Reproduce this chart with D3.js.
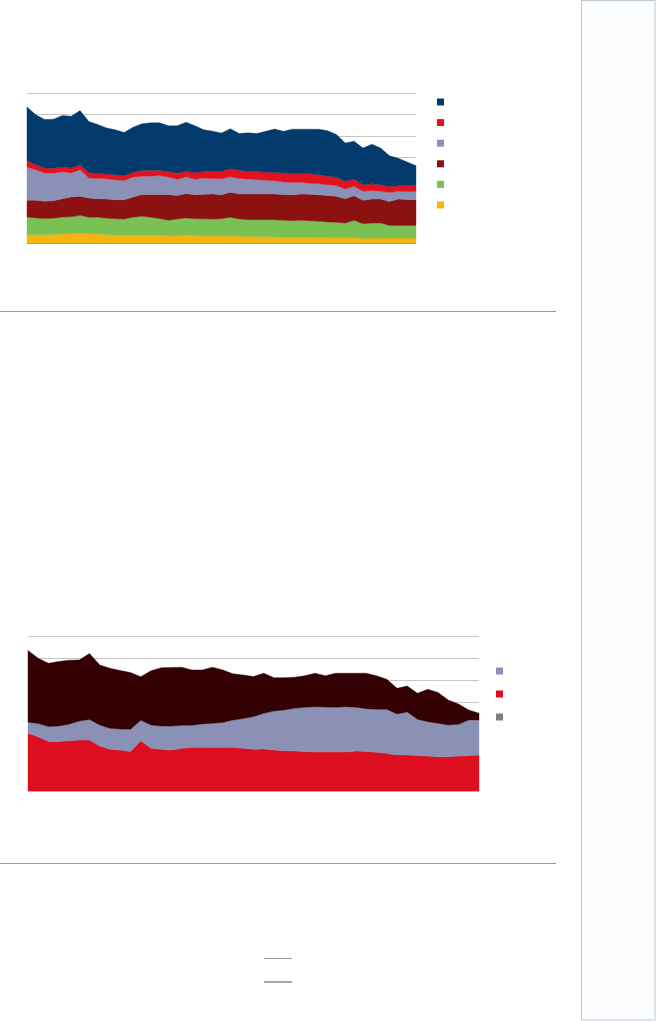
<!DOCTYPE html>
<html>
<head>
<meta charset="utf-8">
<script src="https://cdn.jsdelivr.net/npm/d3@7/dist/d3.min.js"></script>
<style>
html,body{margin:0;padding:0;background:#fff;}
svg{display:block;}
</style>
</head>
<body>
<svg id="chart" width="656" height="1021"></svg>
<script>
// ---------- DATA ----------
const years = d3.range(1970, 2015); // 45 points
const yTicks = [0, 1, 2, 3, 4, 5, 6, 7];

// Chart 1 (stack bottom -> top)
const seriesYellow = [0.39,0.39,0.39,0.40,0.42,0.44,0.45,0.44,0.42,0.40,0.37,0.36,0.36,0.36,0.36,0.36,0.34,0.34,0.36,0.34,0.34,0.34,0.34,0.33,0.31,0.31,0.30,0.30,0.28,0.28,0.28,0.28,0.26,0.26,0.26,0.25,0.25,0.25,0.22,0.23,0.23,0.23,0.23,0.23,0.23];
const seriesGreen = [0.82,0.78,0.75,0.76,0.79,0.78,0.84,0.76,0.78,0.76,0.76,0.76,0.84,0.89,0.84,0.78,0.72,0.78,0.81,0.79,0.79,0.78,0.79,0.87,0.81,0.78,0.79,0.79,0.81,0.78,0.76,0.78,0.78,0.75,0.72,0.72,0.68,0.81,0.68,0.70,0.70,0.59,0.59,0.59,0.59];
const seriesDarkRed = [0.78,0.82,0.81,0.81,0.86,0.93,0.89,0.90,0.87,0.89,0.89,0.90,0.95,1.01,1.06,1.12,1.20,1.10,1.14,1.12,1.15,1.17,1.12,1.17,1.17,1.20,1.20,1.20,1.20,1.20,1.21,1.23,1.24,1.24,1.24,1.21,1.14,1.15,1.09,1.12,1.12,1.12,1.23,1.21,1.20];
const seriesGrayBlue = [1.56,1.43,1.32,1.29,1.26,1.12,1.24,0.93,0.95,0.95,0.93,0.90,0.93,0.86,0.86,0.89,0.82,0.76,0.78,0.73,0.75,0.72,0.75,0.72,0.72,0.70,0.67,0.64,0.61,0.59,0.58,0.54,0.51,0.51,0.50,0.50,0.45,0.44,0.42,0.40,0.36,0.42,0.36,0.37,0.39];
const seriesRed = [0.30,0.23,0.23,0.23,0.22,0.23,0.23,0.26,0.22,0.22,0.23,0.22,0.22,0.26,0.28,0.25,0.26,0.28,0.26,0.31,0.31,0.34,0.34,0.37,0.39,0.36,0.39,0.37,0.40,0.42,0.40,0.40,0.44,0.42,0.39,0.40,0.36,0.34,0.31,0.31,0.31,0.28,0.26,0.28,0.31];
const seriesNavy = [2.50,2.33,2.26,2.29,2.40,2.41,2.53,2.38,2.29,2.15,2.10,2.02,2.10,2.18,2.21,2.21,2.13,2.21,2.29,2.18,1.94,1.87,1.79,1.87,1.71,1.79,1.76,1.91,2.02,1.94,2.08,2.08,2.08,2.13,2.13,1.98,1.79,1.76,1.71,1.85,1.71,1.43,1.28,1.10,0.89];

// Chart 2 (stack bottom -> top)
const series2Red = [2.61,2.45,2.23,2.23,2.27,2.30,2.30,2.03,1.88,1.85,1.78,2.27,1.93,1.88,1.85,1.93,1.96,1.96,1.96,1.96,1.96,1.93,1.88,1.90,1.85,1.82,1.81,1.78,1.76,1.76,1.76,1.76,1.81,1.78,1.75,1.70,1.63,1.63,1.60,1.58,1.55,1.55,1.58,1.60,1.63];
const series2GrayBlue = [0.50,0.60,0.68,0.71,0.75,0.86,0.93,0.95,0.95,0.95,1.01,0.93,1.05,1.05,1.08,1.04,1.01,1.07,1.10,1.13,1.25,1.34,1.48,1.61,1.76,1.84,1.93,2.00,2.05,2.03,2.02,2.05,1.97,1.94,1.94,1.99,1.85,1.94,1.64,1.55,1.51,1.43,1.43,1.61,1.58];
const series2Dark = [3.24,2.94,2.86,2.91,2.89,2.76,2.98,2.71,2.71,2.64,2.56,1.96,2.45,2.64,2.65,2.62,2.50,2.44,2.53,2.38,2.08,1.97,1.81,1.81,1.51,1.46,1.40,1.42,1.51,1.42,1.54,1.51,1.54,1.60,1.51,1.36,1.16,1.17,1.17,1.46,1.39,1.13,0.92,0.45,0.30];

const keys1 = ["yellow","green","darkred","grayblue","red","navy"];
const colors1 = {navy:"#023b6b", red:"#e2121f", grayblue:"#8b91b6", darkred:"#8c1111", green:"#79c152", yellow:"#f6b410"};
const legend1Order = ["navy","red","grayblue","darkred","green","yellow"];

const keys2 = ["red","grayblue","dark"];
const colors2 = {red:"#dc0e1f", grayblue:"#8a91b5", dark:"#330003"};
const legend2Colors = ["#8a91b5","#dc0e1f","#7f7f7f"];

// ---------- DRAW ----------
const svg = d3.select("#chart");

// sidebar
svg.append("rect").attr("x",581.5).attr("y",0.5).attr("width",73.5).attr("height",1019.5)
  .attr("fill","#fbfcfe").attr("stroke","#c2c9d1").attr("stroke-width",1);

// separators
svg.append("line").attr("x1",0).attr("x2",556).attr("y1",311.5).attr("y2",311.5).attr("stroke","#9a9a9a");
svg.append("line").attr("x1",0).attr("x2",556).attr("y1",863.5).attr("y2",863.5).attr("stroke","#9a9a9a");

function drawChart(cfg){
  const table = years.map((yr,i)=>{
    const o = {year: yr};
    cfg.keys.forEach(k => o[k] = cfg.data[k][i]);
    return o;
  });
  const x = d3.scaleLinear().domain([years[0], years[years.length-1]]).range([cfg.x0, cfg.x1]);
  const y = d3.scaleLinear().domain([0,7]).range([cfg.y0, cfg.y1]);
  const g = svg.append("g");
  // gridlines via axis
  const grid = g.append("g").attr("transform",`translate(${cfg.x0},0)`)
    .call(d3.axisLeft(y).tickValues(yTicks).tickSize(-(cfg.x1-cfg.x0)).tickFormat(""));
  grid.select(".domain").remove();
  grid.selectAll(".tick line").attr("stroke","#c6c6c6").attr("shape-rendering","crispEdges");
  const stack = d3.stack().keys(cfg.keys)(table);
  const area = d3.area().x(d=>x(d.data.year)).y0(d=>y(d[0])).y1(d=>y(d[1]));
  g.selectAll("path.layer").data(stack).join("path").attr("class","layer")
    .attr("d",area).attr("fill",d=>cfg.colors[d.key]).attr("stroke",d=>cfg.colors[d.key]).attr("stroke-width",0.4);
  // baseline
  g.append("line").attr("x1",cfg.x0).attr("x2",cfg.x1).attr("y1",y(0)+0.5).attr("y2",y(0)+0.5)
    .attr("stroke",cfg.baseColor).attr("stroke-width",1);
  // legend
  cfg.legend.forEach((c,i)=>{
    svg.append("rect").attr("x",cfg.lx).attr("y",cfg.ly + i*cfg.lstep - 3.5)
      .attr("width",7).attr("height",7).attr("fill",c);
  });
}

drawChart({
  keys: keys1,
  data: {yellow:seriesYellow, green:seriesGreen, darkred:seriesDarkRed, grayblue:seriesGrayBlue, red:seriesRed, navy:seriesNavy},
  colors: colors1,
  x0: 27, x1: 416, y0: 243, y1: 93,
  baseColor: "#b59a6a",
  legend: legend1Order.map(k=>colors1[k]),
  lx: 437, ly: 102, lstep: 20.6
});

drawChart({
  keys: keys2,
  data: {red:series2Red, grayblue:series2GrayBlue, dark:series2Dark},
  colors: colors2,
  x0: 28, x1: 479, y0: 791, y1: 636,
  baseColor: "#d9a0a6",
  legend: legend2Colors,
  lx: 496, ly: 671, lstep: 23
});

// bottom short legend lines
svg.append("line").attr("x1",264).attr("x2",292).attr("y1",958.5).attr("y2",958.5).attr("stroke","#9a9a9a").attr("stroke-width",1);
svg.append("line").attr("x1",264).attr("x2",292).attr("y1",982).attr("y2",982).attr("stroke","#a8a8a8").attr("stroke-width",2);
</script>
</body>
</html>
